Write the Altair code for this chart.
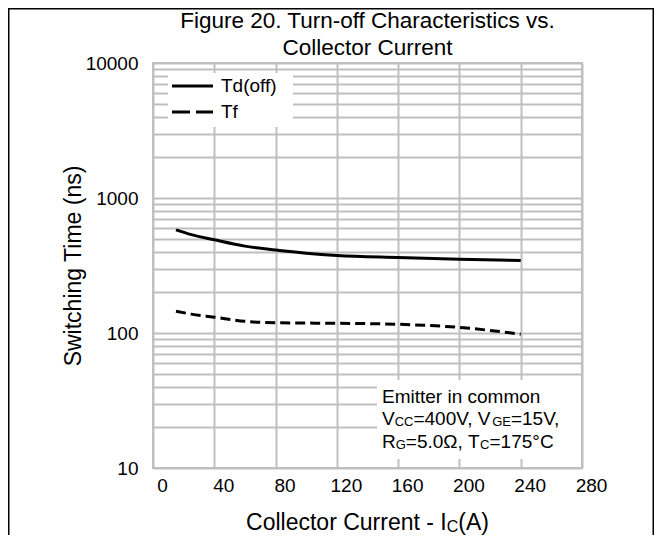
import altair as alt
import pandas as pd

# ---- data ----
ic_td = [15, 25, 40, 60, 80, 100, 120, 160, 200, 240]
td_off = [580, 535, 490, 440, 412, 390, 375, 362, 352, 345]
ic_tf = [15, 25, 40, 60, 80, 120, 160, 200, 240]
tf = [145, 138, 131, 122, 119, 118, 116, 110, 98]

x_ticks = [0, 40, 80, 120, 160, 200, 240, 280]
y_grid = [10, 20, 30, 40, 50, 60, 70, 80, 90,
          100, 200, 300, 400, 500, 600, 700, 800, 900,
          1000, 2000, 3000, 4000, 5000, 6000, 7000, 8000, 9000, 10000]
y_labels = [10, 100, 1000, 10000]

title_lines = ["Figure 20. Turn-off Characteristics vs.", "Collector Current"]
series_names = ["Td(off)", "Tf"]
y_title = "Switching Time (ns)"
x_title = [("Collector Current - I", "m"), ("C", "s"), ("(A)", "m")]
note_line1 = "Emitter in common"
note_line2 = [("V", "m"), ("CC", "s"), ("=400V, V", "m"), ("GE", "s"), ("=15V,", "m")]
note_line3 = [("R", "m"), ("G", "s"), ("=5.0Ω, T", "m"), ("C", "s"), ("=175°C", "m")]

FONT = "Liberation Sans, Arial, Helvetica, sans-serif"
GRID = "#bfbfbf"
W, H = 429, 405
OX, OY = 153, 63  # page position of plot origin

# Arial / Liberation Sans advance widths (per 1000 em)
AW = {'V': 667, 'C': 722, '=': 584, ',': 278, ' ': 278, 'G': 778, 'E': 667, 'R': 722,
      '.': 278, 'Ω': 768, 'T': 611, '°': 400, '(': 333, ')': 333, 'A': 667, 'I': 278,
      'o': 556, 'l': 222, 'e': 556, 'c': 500, 't': 278, 'r': 333, 'u': 556, 'n': 556, '-': 333}
for d in "0123456789":
    AW[d] = 556


def tw(s, size):
    return sum(AW.get(ch, 556) for ch in s) * size / 1000.0


def txt(s, px, py, size, align="left", baseline="alphabetic"):
    return alt.Chart(pd.DataFrame({"t": [s]})).mark_text(
        align=align, baseline=baseline, fontSize=size, font=FONT, color="black"
    ).encode(x=alt.value(px - OX), y=alt.value(py - OY), text="t:N")


def segs(parts, px, py, msize, ssize, sub_drop=1):
    layers = []
    x = px
    for s, kind in parts:
        size = msize if kind == "m" else ssize
        y = py if kind == "m" else py + sub_drop
        layers.append(txt(s, x, y, size))
        x += tw(s, size)
    return layers


def seg_width(parts, msize, ssize):
    return sum(tw(s, msize if k == "m" else ssize) for s, k in parts)


one = pd.DataFrame({"a": [0]})

xscale = alt.Scale(domain=[0, 280], nice=False)
yscale = alt.Scale(type="log", domain=[10, 10000], nice=False)

xaxis = alt.Axis(values=x_ticks, format="d", grid=True, gridColor=GRID, gridWidth=2,
                 ticks=False, domain=False, labelFontSize=19, labelFont=FONT,
                 labelColor="black", labelOffset=9, labelPadding=8, labelFlush=False,
                 labelOverlap=False, title=None)
yaxis = alt.Axis(values=y_grid, format="d", grid=True, gridColor=GRID, gridWidth=2,
                 ticks=False, domain=False, labelFontSize=19, labelFont=FONT,
                 labelColor="black", labelPadding=15, labelOverlap=False,
                 labelExpr="indexof([" + ",".join(str(v) for v in y_labels) + "], datum.value) >= 0 ? datum.label : ''",
                 title=y_title, titleFontSize=23, titleFont=FONT, titleFontWeight="normal",
                 titleColor="black", titleX=80 - OX, titleY=H / 2, titleBaseline="alphabetic",
                 titleAlign="center", titleAngle=270)

td_df = pd.DataFrame({"ic": ic_td, "t": td_off})
tf_df = pd.DataFrame({"ic": ic_tf, "t": tf})

td_line = alt.Chart(td_df).mark_line(color="black", strokeWidth=3, interpolate="monotone").encode(
    x=alt.X("ic:Q", scale=xscale, axis=xaxis),
    y=alt.Y("t:Q", scale=yscale, axis=yaxis),
)
tf_line = alt.Chart(tf_df).mark_line(color="black", strokeWidth=3, strokeDash=[10, 5],
                                     interpolate="monotone").encode(
    x=alt.X("ic:Q", scale=xscale),
    y=alt.Y("t:Q", scale=yscale),
)

# legend box
leg_box = alt.Chart(one).mark_rect(fill="white").encode(
    x=alt.value(168 - OX), x2=alt.value(293 - OX), y=alt.value(73 - OY), y2=alt.value(127 - OY))
leg1 = alt.Chart(one).mark_rule(color="black", strokeWidth=3).encode(
    x=alt.value(172 - OX), x2=alt.value(213 - OX), y=alt.value(86 - OY))
leg2 = alt.Chart(one).mark_rule(color="black", strokeWidth=3, strokeDash=[18, 6]).encode(
    x=alt.value(172 - OX), x2=alt.value(213 - OX), y=alt.value(112 - OY))
leg_t1 = txt(series_names[0], 221, 86, 19, baseline="middle")
leg_t2 = txt(series_names[1], 221, 112, 19, baseline="middle")

# annotation box
note_box = alt.Chart(one).mark_rect(fill="white").encode(
    x=alt.value(377 - OX), x2=alt.value(581 - OX), y=alt.value(380 - OY), y2=alt.value(459 - OY))
note = [txt(note_line1, 382, 403, 19)]
note += segs(note_line2, 382, 425, 19, 13)
note += segs(note_line3, 382, 448, 19, 13)

# titles
cx = OX + W / 2
titles = [txt(title_lines[0], cx, 28, 22.5, align="center"),
          txt(title_lines[1], cx, 54.5, 22.5, align="center")]
xw = seg_width(x_title, 23, 16)
xt = segs(x_title, cx - xw / 2, 530, 23, 16, sub_drop=2)

# outer frame (left, top, right)
frame = alt.Chart(one).mark_rect(fill=None, stroke="black", strokeWidth=1.5).encode(
    x=alt.value(8.75 - OX), x2=alt.value(653.25 - OX), y=alt.value(8.75 - OY), y2=alt.value(600 - OY))

chart = alt.layer(
    td_line, tf_line, leg_box, leg1, leg2, leg_t1, leg_t2, note_box, *note, *titles, *xt, frame
).properties(
    width=W, height=H,
    autosize=alt.AutoSizeParams(type="none"),
    padding={"left": OX - 8, "top": OY - 8, "right": 662 - 16 - (OX - 8) - W, "bottom": 543 - 16 - (OY - 8) - H},
    background="white",
).configure_view(stroke=GRID, strokeWidth=2)

chart.save("out.html", embed_options={"renderer": "svg", "actions": False})
